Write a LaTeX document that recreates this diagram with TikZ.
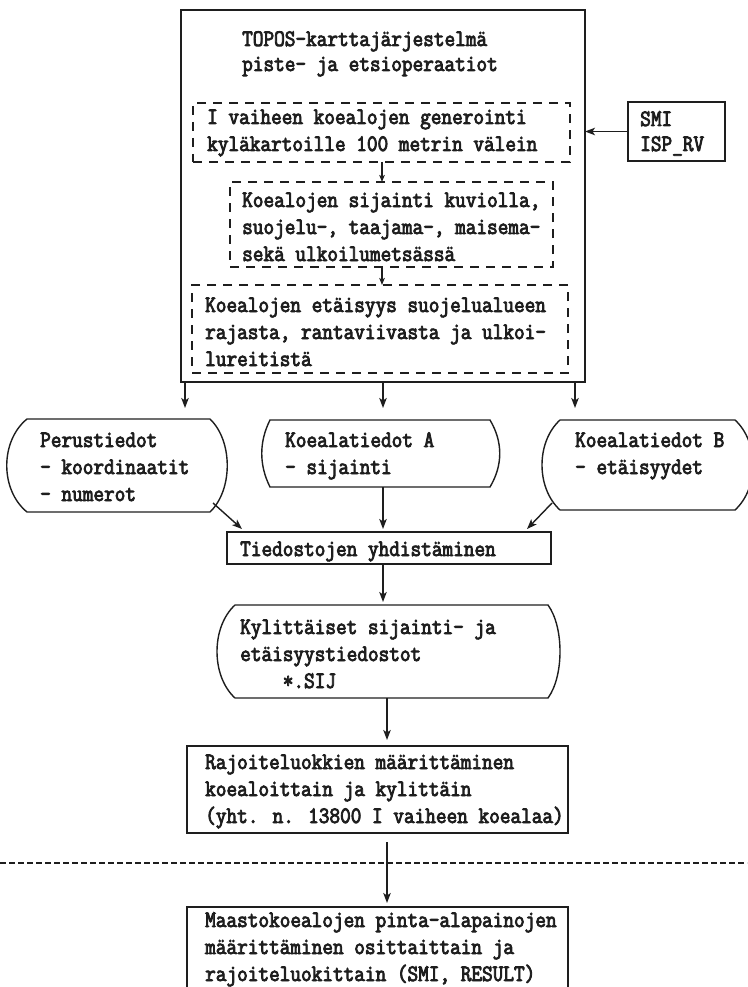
\documentclass[tikz,border=0pt]{standalone}
\usepackage{fontspec}
\newfontfamily\tw[FakeBold=3.5,FakeStretch=0.88]{Latin Modern Mono}
\usetikzlibrary{arrows.meta,calc,fit}
\definecolor{ink}{HTML}{1E1E1E}

% outline with bulging sides around an (undrawn) node: name, left and right control offsets
\newcommand\bulgeoutline[3]{%
  \draw[frame] (#1.north west) -- (#1.north east)
    .. controls +(#3,22) and +(#3,-22) .. (#1.south east)
    -- (#1.south west)
    .. controls +(-#2,-22) and +(-#2,22) .. (#1.north west) -- cycle;}

\begin{document}
\begin{tikzpicture}[x=1pt,y=-1pt,
  frame/.style={draw=ink, line width=1.4pt},
  area/.style={inner sep=0pt, outer sep=0pt},
  box/.style={area, frame},
  dbox/.style={area, draw=ink, line width=1.2pt, dash pattern=on 9pt off 7pt},
  label/.style={anchor=base west, align=left, inner sep=0pt, text=ink,
    font=\tw\fontsize{23.5}{27}\selectfont},
  arr/.style={draw=ink, line width=1.4pt, -{Stealth[length=10pt,width=7.5pt,inset=2.5pt]}},
  smallarr/.style={draw=ink, line width=1.1pt, -{Stealth[length=7pt,width=5.5pt,inset=1.5pt]}},
  sepline/.style={draw=ink, line width=1.3pt, dash pattern=on 6pt off 3pt}]

\useasboundingbox (0,0) rectangle (747,987);

% label positions give the baseline of the last line of each text

% --- TOPOS block with its three dashed stages
\node[box, fit={(181,10) (585,382)}] (big) {};
\node[label] (title) at (242,71) {TOPOS-karttajärjestelmä\\[-2pt]piste- ja etsioperaatiot};

\node[dbox, fit={(193,103) (570,162)}] (d1) {};
\node[label] (d1t) at (207,151) {I vaiheen koealojen generointi\\kyläkartoille 100 metrin välein};

\node[dbox, fit={(230,182) (553,267)}] (d2) {};
\node[label] (d2t) at (242,261) {Koealojen sijainti kuviolla,\\suojelu-, taajama-, maisema-\\sekä ulkoilumetsässä};

\node[dbox, fit={(192,285) (568,373)}] (d3) {};
\node[label] (d3t) at (205,366) {Koealojen etäisyys suojelualueen\\rajasta, rantaviivasta ja ulkoi-\\lureitistä};

\coordinate (xs) at (382,0);
\draw[smallarr] (d1.south -| xs) -- (d2.north -| xs);
\draw[smallarr] (d2.south -| xs) -- (d3.north -| xs);

% --- input box on the right
\node[box, fit={(628,102) (725,161)}] (smi) {};
\node[label] (smit) at (640,151) {SMI\\[-2pt]ISP\_RV};
\draw[arr] (smi.west) -- (smi.west -| big.east);

% --- three data sets
\node[area, fit={(27,419) (210,512)}] (per) {};
\bulgeoutline{per}{27}{23}
\node[label] (pert) at (40,501) {Perustiedot\\- koordinaatit\\- numerot};

\node[area, fit={(270,420) (490,487)}] (koa) {};
\bulgeoutline{koa}{11}{13}
\node[label] (koat) at (285,474) {Koealatiedot A\\- sijainti};

\node[area, fit={(560,420) (735,510)}] (kob) {};
\bulgeoutline{kob}{24}{24}
\node[label] (kobt) at (575,474) {Koealatiedot B\\- etäisyydet};

\coordinate (dl) at (185,408);
\coordinate (dm) at (383,408);
\coordinate (dr) at (575,408);
\draw[arr] (big.south -| dl) -- (dl);
\draw[arr] (big.south -| dm) -- (dm);
\draw[arr] (big.south -| dr) -- (dr);

% --- merge
\node[box, fit={(227,532) (551,564)}] (tied) {};
\node[label] (tiedt) at (240,556) {Tiedostojen yhdistäminen};

\draw[arr] ($(per.south east)+(3,-9)$) -- ($(tied.north west)+(15,-3)$);
\draw[arr] ($(kob.south west)+(-8,-7)$) -- ($(tied.north east)+(-24,-3)$);
\draw[arr, shorten >=3pt] (koa.south -| dm) -- (tied.north -| dm);

% --- per-village files
\node[area, fit={(235,605) (548,698)}] (kyl) {};
\bulgeoutline{kyl}{24}{16}
\node[label] (kylt) at (240,688) {Kylittäiset sijainti- ja\\etäisyystiedostot\\\ \ \ \ *.SIJ};
\draw[arr, shorten >=3pt] (tied.south -| dm) -- (kyl.north -| dm);

% --- restriction classes
\coordinate (xk) at (387,0);
\node[box, fit={(187,746) (568,833)}] (raj) {};
\node[label] (rajt) at (205,823) {Rajoiteluokkien määrittäminen\\koealoittain ja kylittäin\\(yht. n. 13800 I vaiheen koealaa)};
\draw[arr, shorten >=6pt] (kyl.south -| xk) -- (raj.north -| xk);

% --- separator and field plot weights
\coordinate (sepl) at (0,863);
\coordinate (sepr) at (747,863);
\draw[sepline] (sepl) -- (sepr);

\node[box, fit={(187,907) (568,1000)}] (maa) {};
\node[label] (maat) at (205,981) {Maastokoealojen pinta-alapainojen\\määrittäminen osittaittain ja\\rajoiteluokittain (SMI, RESULT)};
\draw[arr, shorten <=9pt, shorten >=4pt] (raj.south -| xk) -- (maa.north -| xk);

\end{tikzpicture}
\end{document}
